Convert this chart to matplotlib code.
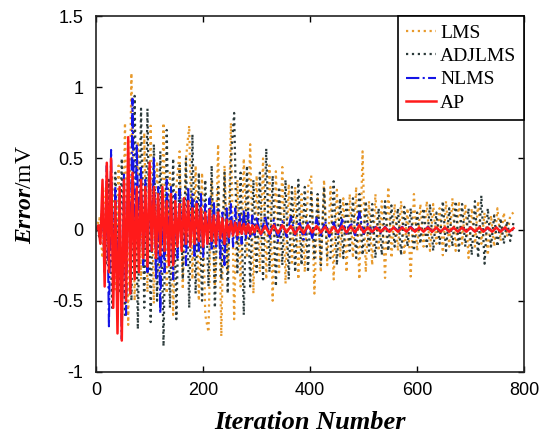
import numpy as np
import matplotlib
matplotlib.use("Agg")
import matplotlib.pyplot as plt

# ---- data ----
iter_coarse = np.arange(0, 781, 6)          # grid for LMS / ADJLMS (131 points)
iter_fast = np.arange(0, 300, 4)            # early grid for NLMS / AP (75 points)
iter_slow = np.arange(300, 781, 8)          # late grid for NLMS / AP (61 points)

lms = [0.0, 0.08, -0.2, 0.3, -0.3, 0.38, -0.42, 0.45, -0.55, 0.75,
       -0.67, 1.1, -0.5, 0.62, -0.35, 0.68, -0.44, 0.73, -0.52, 0.48,
       -0.38, 0.75, -0.45, 0.4, -0.6, 0.3, 0.55, -0.42, 0.5, 0.73,
       -0.35, 0.45, -0.5, 0.4, -0.6, -0.72, 0.35, -0.4, 0.6, -0.75,
       0.45, -0.3, 0.75, -0.63, 0.35, -0.4, 0.5, -0.2, 0.6, -0.45,
       0.38, -0.3, 0.5, -0.35, 0.45, -0.5, 0.41, -0.3, 0.44, -0.38,
       0.32, -0.25, 0.3, -0.35, 0.25, -0.3, 0.3, 0.38, -0.45, 0.22,
       -0.3, 0.35, -0.25, 0.3, -0.35, 0.28, -0.2, 0.22, -0.3, 0.25,
       -0.2, 0.3, -0.35, 0.55, -0.3, 0.2, -0.25, 0.25, -0.15, 0.2,
       -0.34, 0.3, -0.2, 0.18, -0.15, 0.2, -0.18, 0.15, -0.33, 0.25,
       -0.15, 0.18, -0.12, 0.2, -0.15, 0.18, -0.1, 0.15, -0.18, 0.2,
       -0.12, 0.22, -0.15, 0.2, -0.1, 0.18, -0.2, 0.15, -0.12, 0.2,
       -0.1, 0.12, -0.18, 0.1, -0.12, 0.15, -0.08, 0.12, -0.05, 0.1,
       0.12]

adjlms = [0.0, -0.05, 0.15, -0.25, 0.35, -0.55, 0.4, -0.45, 0.5, -0.6,
          0.45, -0.5, 0.94, -0.7, 0.85, -0.55, 0.85, -0.65, 0.6, -0.5,
          0.55, -0.82, 0.7, -0.55, 0.5, -0.63, 0.45, -0.35, 0.5, -0.55,
          0.67, -0.45, 0.4, -0.5, 0.35, -0.4, 0.45, -0.55, 0.3, -0.35,
          0.4, -0.45, 0.5, 0.82, -0.3, 0.4, -0.6, 0.45, -0.4, 0.35,
          -0.3, 0.4, -0.35, 0.57, -0.3, 0.38, -0.4, 0.3, -0.25, 0.35,
          -0.35, 0.3, -0.3, 0.35, -0.25, 0.3, -0.3, 0.28, -0.2, 0.25,
          -0.25, 0.3, -0.2, -0.2, 0.34, -0.25, 0.22, -0.2, 0.2, -0.15,
          0.22, -0.2, 0.25, -0.18, 0.2, -0.15, 0.18, -0.2, 0.15, -0.18,
          0.2, -0.15, 0.17, -0.12, 0.15, -0.18, 0.16, -0.12, 0.15, -0.15,
          0.12, -0.1, 0.15, -0.12, 0.18, -0.15, 0.12, -0.1, 0.2, -0.15,
          0.15, -0.12, 0.2, -0.15, 0.18, -0.12, 0.15, -0.18, 0.2, -0.2,
          0.24, -0.24, 0.15, -0.12, 0.1, -0.12, 0.08, -0.1, 0.06, -0.08,
          0.05]

nlms_early = [0.0, 0.02, -0.05, 0.2, -0.3, 0.45, -0.68, 0.56, -0.35, 0.3,
              -0.5, 0.25, -0.77, 0.4, -0.6, 0.5, -0.3, 0.92, -0.2, 0.6,
              -0.1, 0.45, -0.25, 0.35, -0.3, 0.4, -0.15, 0.5, -0.35, 0.3,
              -0.59, 0.2, -0.3, 0.35, -0.2, 0.3, -0.35, 0.25, -0.2, 0.28,
              -0.15, 0.22, -0.25, 0.3, -0.1, 0.25, -0.2, 0.2, -0.15, 0.25,
              -0.2, 0.18, -0.1, 0.22, -0.15, 0.2, -0.12, 0.15, -0.2, 0.12,
              -0.25, 0.15, -0.1, 0.18, -0.12, 0.15, -0.08, 0.12, -0.1, 0.14,
              -0.06, 0.12, -0.05, 0.1, -0.04]
nlms_late = [0.08, -0.05, 0.1, -0.06, 0.07, -0.08, 0.06, -0.05, 0.09, -0.04,
             0.06, -0.07, 0.05, -0.06, 0.08, -0.04, 0.06, -0.05, 0.05, -0.04,
             0.07, -0.03, 0.05, -0.04, 0.12, -0.03, 0.04, -0.02, 0.03, -0.02,
             0.02, -0.02, 0.02, -0.01, 0.02, -0.01, 0.02, -0.01, 0.01, -0.01,
             0.02, -0.01, 0.01, -0.01, 0.01, -0.01, 0.01, -0.01, 0.01, -0.01,
             0.01, -0.01, 0.01, -0.01, 0.01, -0.01, 0.01, -0.01, 0.01, -0.01,
             0.0]

ap_early = [0.0, 0.03, -0.1, 0.35, -0.4, 0.47, -0.3, 0.5, -0.55, 0.2,
            -0.73, 0.3, -0.78, 0.35, -0.5, 0.65, -0.45, 0.4, -0.35, 0.3,
            -0.3, 0.35, -0.2, 0.3, -0.26, 0.47, -0.15, 0.3, -0.2, 0.25,
            -0.18, 0.3, -0.15, 0.2, -0.25, 0.25, -0.25, 0.2, -0.12, 0.18,
            -0.15, 0.22, -0.1, 0.2, -0.12, 0.15, -0.1, 0.18, -0.08, 0.15,
            -0.12, 0.12, -0.1, 0.14, -0.08, 0.1, -0.1, 0.12, -0.06, 0.08,
            -0.1, 0.07, -0.05, 0.06, -0.04, 0.05, -0.04, 0.05, -0.03, 0.04,
            -0.03, 0.04, -0.03, 0.03, -0.02]
ap_late = [0.03, -0.03, 0.025, -0.03, 0.03, -0.025, 0.03, -0.02, 0.025, -0.03,
           0.02, -0.025, 0.03, -0.02, 0.025, -0.02, 0.02, -0.025, 0.02, -0.02,
           0.025, -0.02, 0.02, -0.02, 0.03, -0.02, 0.015, -0.015, 0.015, -0.015,
           0.015, -0.015, 0.015, -0.015, 0.015, -0.015, 0.015, -0.015, 0.015, -0.015,
           0.015, -0.015, 0.015, -0.015, 0.015, -0.015, 0.015, -0.015, 0.015, -0.015,
           0.015, -0.015, 0.015, -0.015, 0.015, -0.015, 0.015, -0.015, 0.015, -0.015,
           0.01]

x_ticks = [0, 200, 400, 600, 800]
y_ticks = [-1, -0.5, 0, 0.5, 1, 1.5]
y_tick_labels = ["-1", "-0.5", "0", "0.5", "1", "1.5"]

# ---- plotting ----
plt.rcParams['mathtext.fontset'] = 'custom'
plt.rcParams['mathtext.it'] = 'Liberation Serif:italic:bold'
plt.rcParams['mathtext.rm'] = 'Liberation Serif'

fig = plt.figure(figsize=(5.46, 4.38), dpi=100)
ax = fig.add_axes([0.176, 0.151, 0.784, 0.812])

iter_nl = np.concatenate([iter_fast, iter_slow])
nlms = nlms_early + nlms_late
ap = ap_early + ap_late

ax.plot(iter_coarse, lms, linestyle=':', color='#E89A2C', lw=1.6, label='LMS')
ax.plot(iter_coarse, adjlms, linestyle=':', color='#2B3A3A', lw=1.6, label='ADJLMS')
ax.plot(iter_nl, nlms, linestyle='-.', color='#1414E6', lw=1.5, label='NLMS')
ax.plot(iter_nl, ap, linestyle='-', color='#FF1A1A', lw=1.8, label='AP')

ax.set_xlim(0, 800)
ax.set_ylim(-1, 1.5)
ax.set_xticks(x_ticks)
ax.set_yticks(y_ticks)
ax.set_yticklabels(y_tick_labels)
ax.tick_params(direction='in', top=True, right=True, length=4, width=1,
               labelsize=13)
ax.tick_params(axis='y', pad=9)
ax.tick_params(axis='x', pad=7)
for lab in ax.get_xticklabels() + ax.get_yticklabels():
    lab.set_fontfamily('Liberation Sans')
for sp in ax.spines.values():
    sp.set_linewidth(1.2)
    sp.set_color('#222222')

ax.set_xlabel('Iteration Number', fontfamily='Liberation Serif',
              fontweight='bold', fontstyle='italic', fontsize=19, labelpad=9)
ax.set_ylabel(r'$Error$/mV', fontfamily='Liberation Serif', fontsize=17, labelpad=12)

leg = ax.legend(loc='upper right', borderaxespad=0, fancybox=False,
                prop={'family': 'Liberation Serif', 'size': 14},
                handlelength=1.55, handletextpad=0.2, labelspacing=0.3,
                borderpad=0.4, framealpha=1)
leg.get_frame().set_edgecolor('black')
leg.get_frame().set_linewidth(1.2)

fig.savefig('out.png', dpi=100)
